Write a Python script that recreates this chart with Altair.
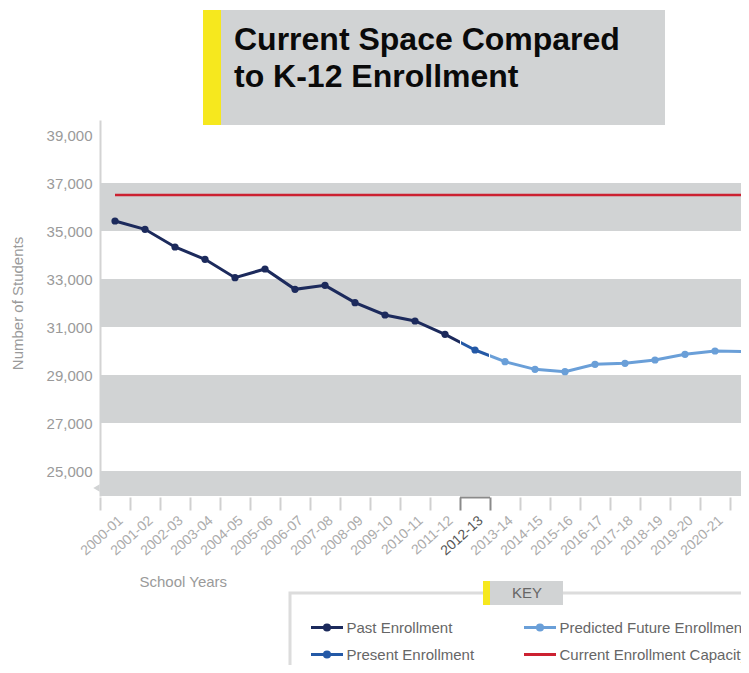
import json
import altair as alt
import pandas as pd

# ---------------- data ----------------
categories = ["2000-01", "2001-02", "2002-03", "2003-04", "2004-05", "2005-06",
              "2006-07", "2007-08", "2008-09", "2009-10", "2010-11", "2011-12",
              "2012-13", "2013-14", "2014-15", "2015-16", "2016-17", "2017-18",
              "2018-19", "2019-20", "2020-21", "2021-22"]
past_values = [35417, 35070, 34333, 33819, 33056, 33417, 32569, 32736, 32014,
               31500, 31250, 30694]
present_values = [30042]
future_values = [29556, 29236, 29139, 29444, 29486, 29625, 29861, 30000, 29972]
capacity_value = 36500

band_lows = [35000, 31000, 27000, 23000]
band_highs = [37000, 33000, 29000, 25000]
y_ticks = [25000, 27000, 29000, 31000, 33000, 35000, 37000, 39000]

series_names = ["Past Enrollment", "Present Enrollment",
                "Predicted Future Enrollment", "Current Enrollment Capacity"]
series_colors = ["#1c2a5c", "#2459a6", "#6a9fd8", "#cc2131"]
title_lines = ["Current Space Compared", "to K-12 Enrollment"]
key_text = "KEY"

NAVY, BLUE, LIGHT, RED = series_colors
GRAY = "#d1d3d4"
YELLOW = "#f6e81e"
TEXT_GRAY = "#9a9a9a"

# ---------------- layout ----------------
W, H = 641, 376
STEP = 30.0                      # px per school year
PX_PER_UNIT = 48.0 / 2000.0      # px per student
Y_TOP = 39625
Y_BOTTOM = Y_TOP - H / PX_PER_UNIT
X_LO = -0.5
X_HI = X_LO + W / STEP

# ---------------- frames ----------------
values = past_values + present_values + future_values
series = (["Past Enrollment"] * len(past_values)
          + ["Present Enrollment"] * len(present_values)
          + ["Predicted Future Enrollment"] * len(future_values))
df = pd.DataFrame({"idx": list(range(len(categories))), "year": categories,
                   "value": values, "series": series})

p_last = len(past_values) - 1
pres = len(past_values)
conn1 = df.iloc[[p_last, pres]]
conn2 = df.iloc[[pres, pres + 1]]

df_bands = pd.DataFrame({"lo": band_lows, "hi": band_highs})
df_cap = pd.DataFrame({"x0": [0], "x1": [len(categories) - 1], "cap": [capacity_value]})
df_bracket = pd.DataFrame({"a": [pres - 0.5], "b": [pres + 0.5]})
one = pd.DataFrame({"k": [0]})

# ---------------- scales / axes ----------------
label_array = json.dumps(categories).replace('"', "'")
tick_vals = [X_LO + 0.5 * i for i in range(int((X_HI - X_LO) / 0.5) + 1)]

x_axis = alt.Axis(
    values=tick_vals,
    labelExpr=f"datum.value % 1 != 0 ? '' : {label_array}[datum.value]",
    labelAngle=-42, labelAlign="right", labelBaseline="top",
    labelFontSize=14, labelOffset=1, labelPadding=3,
    labelColor={"condition": {"test": f"datum.value == {pres}", "value": "#555555"},
                "value": "#ababab"},
    labelOverlap=False, labelFlush=False, labelBound=False,
    tickColor={"condition": [
        {"test": "datum.value % 1 == 0", "value": "transparent"},
        {"test": f"abs(datum.value - {pres}) == 0.5", "value": "#8a8a8a"}],
        "value": "#d0d0d0"},
    tickSize=13, tickWidth=2, offset=1, domain=False, grid=False,
    title="School Years", titleX=39, titleY=89, titleAlign="left",
    titleBaseline="alphabetic", titleFontSize=15, titleFontWeight="normal",
    titleColor=TEXT_GRAY, titleAnchor="start",
)
y_axis = alt.Axis(
    values=y_ticks, format=",d", ticks=False, tickSize=0, grid=False,
    domainColor="#d3d3d3", domainWidth=2, labelFontSize=15, labelColor=TEXT_GRAY,
    labelPadding=8,
    title="Number of Students", titleX=-83, titleY=183, titleAngle=270,
    titleAlign="center", titleBaseline="middle", titleFontSize=15,
    titleFontWeight="normal", titleColor=TEXT_GRAY,
)

xs = alt.Scale(domain=[X_LO, X_HI], nice=False, zero=False)
ys = alt.Scale(domain=[Y_BOTTOM, Y_TOP], nice=False, zero=False)
cs = alt.Scale(domain=series_names, range=series_colors)


def X(f):
    return alt.X(f, scale=xs, axis=x_axis)


def Y(f):
    return alt.Y(f, scale=ys, axis=y_axis)


dot = ("M0.16,0A0.16,0.16,0,1,1,-0.16,0A0.16,0.16,0,1,1,0.16,0"
       "M0.07,0A0.07,0.07,0,1,1,-0.07,0A0.07,0.07,0,1,1,0.07,0")
sym_expr = f"datum.value == '{series_names[3]}' ? 'M-1,0L1,0' : 'M-1,0L1,0{dot}'"

legend = alt.Legend(
    orient="none", legendX=209.5, legendY=499.5, columns=2, columnPadding=48,
    rowPadding=11, clipHeight=16, symbolSize=1024, symbolStrokeWidth=3,
    symbolType={"expr": sym_expr}, labelFontSize=15, labelColor="#666666",
    labelOffset=2, padding=0, title=None, labelLimit=400,
)

# ---------------- layers ----------------
bands = alt.Chart(df_bands).mark_rect(color=GRAY, clip=True).encode(
    x=alt.value(0), x2=alt.value(W), y=Y("lo:Q"), y2="hi:Q")

brk = alt.Chart(one).mark_point(shape="triangle-left", filled=True, color=GRAY,
                                opacity=1, size=55).encode(
    x=alt.value(-3.5), y=alt.value(H - 8))

cap = alt.Chart(df_cap).mark_rule(color=RED, strokeWidth=2.5).encode(
    x=X("x0:Q"), x2="x1:Q", y=Y("cap:Q"))

lines = alt.Chart(df).mark_line(strokeWidth=3).encode(
    x=X("idx:Q"), y=Y("value:Q"),
    color=alt.Color("series:N", scale=cs, legend=legend))


def grad(c1, c2, g0, g1):
    return alt.Gradient(gradient="linear", x1=0, x2=1, y1=0, y2=0, stops=[
        alt.GradientStop(color=c1, offset=0), alt.GradientStop(color=c1, offset=g0),
        alt.GradientStop(color="#ffffff", offset=g0),
        alt.GradientStop(color="#ffffff", offset=g1),
        alt.GradientStop(color=c2, offset=g1), alt.GradientStop(color=c2, offset=1)])


c1 = alt.Chart(conn1).mark_line(strokeWidth=3, stroke=grad(NAVY, BLUE, 0.5, 0.55)).encode(
    x=X("idx:Q"), y=Y("value:Q"))
c2 = alt.Chart(conn2).mark_line(strokeWidth=3, stroke=grad(BLUE, LIGHT, 0.45, 0.5)).encode(
    x=X("idx:Q"), y=Y("value:Q"))

points = alt.Chart(df).mark_circle(size=52, opacity=1).encode(
    x=X("idx:Q"), y=Y("value:Q"),
    color=alt.Color("series:N", scale=cs, legend=None))

bracket = alt.Chart(df_bracket).mark_rule(color="#8a8a8a", strokeWidth=2).encode(
    x=X("a:Q"), x2="b:Q", y=alt.value(H + 1.5))

banner = alt.Chart(one).mark_rect(color=GRAY).encode(
    x=alt.value(103), x2=alt.value(565), y=alt.value(-110), y2=alt.value(5))
banner_y = alt.Chart(one).mark_rect(color=YELLOW).encode(
    x=alt.value(103), x2=alt.value(121), y=alt.value(-110), y2=alt.value(5))
title_txt = alt.Chart(one).mark_text(
    text=title_lines, align="left", baseline="alphabetic", fontSize=32,
    fontWeight="bold", font="Liberation Sans", color="#0a0a0a", lineHeight=37.3
).encode(x=alt.value(134), y=alt.value(-70))

key_box = alt.Chart(one).mark_rect(fillOpacity=0, stroke="#dcdcdc", strokeWidth=3).encode(
    x=alt.value(190), x2=alt.value(760), y=alt.value(473), y2=alt.value(620))
key_tab = alt.Chart(one).mark_rect(color=GRAY).encode(
    x=alt.value(383), x2=alt.value(463), y=alt.value(461), y2=alt.value(485))
key_tab_y = alt.Chart(one).mark_rect(color=YELLOW).encode(
    x=alt.value(383), x2=alt.value(390), y=alt.value(461), y2=alt.value(485))
key_txt = alt.Chart(one).mark_text(
    text=key_text, align="center", baseline="middle", fontSize=15, color="#666666"
).encode(x=alt.value(427), y=alt.value(473))

chart = alt.layer(
    bands, brk, cap, lines, c1, c2, points, bracket,
    banner, banner_y, title_txt, key_box, key_tab, key_tab_y, key_txt
).properties(
    width=W, height=H,
    padding={"left": 92, "top": 112, "right": 0, "bottom": 169},
    autosize=alt.AutoSizeParams(type="none"),
    background="white",
).configure(font="Liberation Sans").configure_view(strokeWidth=0)

chart.save("out.html", embed_options={"renderer": "svg", "actions": False})
